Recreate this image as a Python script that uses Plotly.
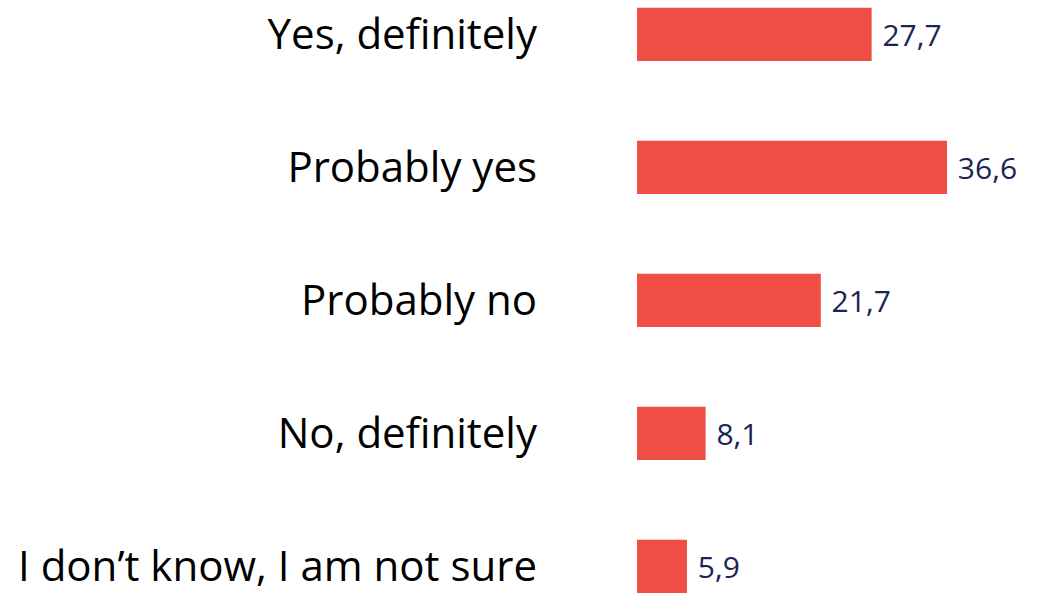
import plotly.graph_objects as go

categories = ["Yes, definitely", "Probably yes", "Probably no", "No, definitely", "I don’t know, I am not sure"]
values = [27.7, 36.6, 21.7, 8.1, 5.9]

fig = go.Figure(go.Bar(
    x=values,
    y=categories,
    orientation="h",
    width=0.4,
    marker=dict(color="#F04E45", line=dict(width=0)),
    texttemplate=" %{x:.1f}",
    textposition="outside",
    textfont=dict(family="Open Sans", size=30, color="#1C2452"),
    cliponaxis=False,
))

fig.update_layout(
    width=1048, height=593,
    margin=dict(l=637, r=0, t=0, b=0, autoexpand=False),
    plot_bgcolor="white", paper_bgcolor="white",
    separators=", ",
    showlegend=False,
    xaxis=dict(range=[0, 48.52], visible=False, automargin=False),
    yaxis=dict(
        range=[4.2, -0.259],
        automargin=False,
        showgrid=False, zeroline=False, showline=False,
        ticks="", ticklabelstandoff=99,
        tickfont=dict(family="Open Sans", size=42, color="black"),
    ),
)

fig.write_html("out.html", config={"displayModeBar": False},
               post_script="document.body.style.margin='0';")
